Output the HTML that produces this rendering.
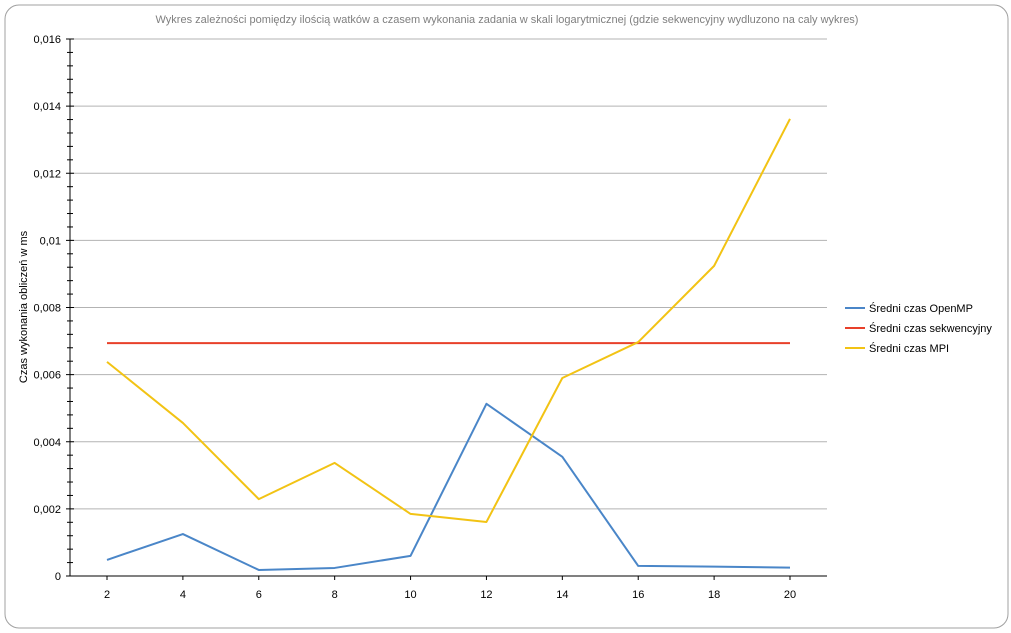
<!DOCTYPE html>
<html><head><meta charset="utf-8"><style>
body{margin:0;background:#fff;}
svg{display:block;font-family:"Liberation Sans",sans-serif;}
</style></head><body>
<svg id="c" width="1011" height="633">
<rect x="5" y="5" width="1003" height="623" rx="14" fill="#fff" stroke="#a0a0a0" stroke-width="1"/>
<text x="507" y="23" text-anchor="middle" font-size="11" fill="#7f7f7f">Wykres zależności pomiędzy ilością watków a czasem wykonania zadania w skali logarytmicznej (gdzie sekwencyjny wydluzono na caly wykres)</text>
<text transform="translate(27,307) rotate(-90)" text-anchor="middle" font-size="11" fill="#000">Czas wykonania obliczeń w ms</text>
<g id="grid"></g><g id="series"></g><g id="axes"></g>
<g id="legend"></g>
</svg>
<script>
const categories=[2,4,6,8,10,12,14,16,18,20];
const openmp=[0.00048,0.00125,0.00018,0.00024,0.0006,0.00513,0.00355,0.0003,0.00028,0.00025];
const sekwencyjny=[0.00694,0.00694,0.00694,0.00694,0.00694,0.00694,0.00694,0.00694,0.00694,0.00694];
const mpi=[0.00638,0.00456,0.00229,0.00337,0.00185,0.00161,0.0059,0.00697,0.00924,0.01362];
const yTicks=[0,0.002,0.004,0.006,0.008,0.01,0.012,0.014,0.016];
const yTickLabels=["0","0,002","0,004","0,006","0,008","0,01","0,012","0,014","0,016"];
const seriesNames=["Średni czas OpenMP","Średni czas sekwencyjny","Średni czas MPI"];
const NS="http://www.w3.org/2000/svg";
const L=70,R=827,T=39,B=576;
const x=v=>107+(v-2)/18*(790-107);
const y=v=>B-(v/0.016)*(B-T);
function mk(t,a,p){const e=document.createElementNS(NS,t);for(const k in a)e.setAttribute(k,a[k]);p.appendChild(e);return e;}
const grid=document.getElementById('grid'),axes=document.getElementById('axes'),ser=document.getElementById('series'),leg=document.getElementById('legend');
yTicks.forEach((v,i)=>{
 if(v>0){const g=mk('line',{x1:L,x2:R,y1:y(v),y2:y(v),stroke:'#b3b3b3','stroke-width':1},grid);
 
 }
 const t=mk('text',{x:L-9,y:y(v)+4,'text-anchor':'end','font-size':11,fill:'#000'},axes);t.textContent=yTickLabels[i];
 
 
 mk('line',{x1:L-4,x2:L+4,y1:y(v),y2:y(v),stroke:'#000'},axes);
 if(i<yTicks.length-1)for(let k=1;k<5;k++){const yy=y(v+k*0.0004);mk('line',{x1:L-3,x2:L+3,y1:yy,y2:yy,stroke:'#000'},axes);}
});
mk('line',{x1:L,x2:L,y1:T,y2:B,stroke:'#000'},axes);
mk('line',{x1:L,x2:R,y1:B,y2:B,stroke:'#000'},axes);
categories.forEach(c=>{
 mk('line',{x1:x(c),x2:x(c),y1:B,y2:B+4,stroke:'#000'},axes);
 const t=mk('text',{x:x(c),y:B+22,'text-anchor':'middle','font-size':11,fill:'#000'},axes);t.textContent=c;
 
 
});
const data=[openmp,sekwencyjny,mpi],cols=['#4a86c8','#e8402a','#f2c314'];
data.forEach((d,i)=>{
 const p=mk('polyline',{points:d.map((v,j)=>x(categories[j])+','+y(v)).join(' '),fill:'none',stroke:cols[i],'stroke-width':2,'stroke-linejoin':'round'},ser);
 
 
 const ly=308+i*20;
 mk('line',{x1:845,x2:865,y1:ly,y2:ly,stroke:cols[i],'stroke-width':2},leg);
 const t=mk('text',{x:869,y:ly+4,'font-size':11,fill:'#000'},leg);t.textContent=seriesNames[i];
 
 
});
</script>
</body></html>
